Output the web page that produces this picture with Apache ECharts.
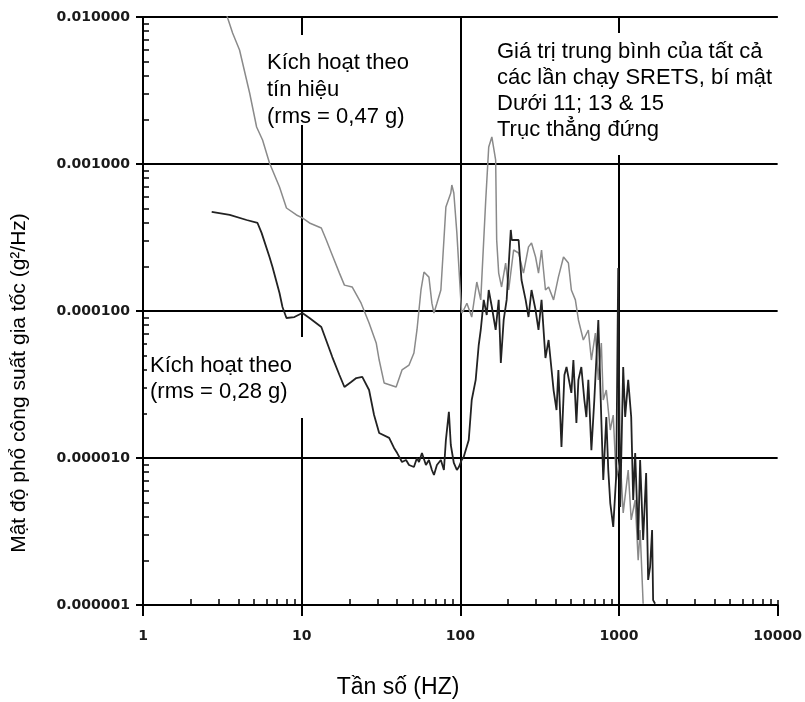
<!DOCTYPE html>
<html>
<head>
<meta charset="utf-8">
<script src="https://cdn.jsdelivr.net/npm/echarts@6/dist/echarts.min.js"></script>
<style>
html,body{margin:0;padding:0;background:#fff;}
#chart{width:805px;height:702px;}
</style>
</head>
<body>
<div id="chart"></div>
<script>
// X axis (frequency, Hz) major ticks and Y axis (PSD, g^2/Hz) major ticks
const xTicks = [1, 10, 100, 1000, 10000];
const yTicks = [0.000001, 0.00001, 0.0001, 0.001, 0.01];

// Signal-triggered (rms = 0,47 g) – light grey trace
const grayFreq = [3.23,3.42,3.67,4.06,4.70,5.20,5.67,6.27,7.25,8.02,9.27,10.1,11.2,13.3,14.3,15.4,17.3,18.6,20.8,23.7,26.6,29.5,30.8,33.1,39.4,42.9,47.5,51.0,53.3,56.5,59.0,63.4,66.2,68.2,71.2,75.4,78.8,81.1,87.1,88.4,91.0,95.1,97.9,100.7,102,105,110,118,127,134.5,144.6,151,158,167,169.5,174.5,182,193,201.7,216.7,233,250,269,281,298,311,325,344,360,387,415,447,480,501,531,555,596,641,670,710,741,774,796,832,881,920,961,1018,1063,1143,1194,1265,1321,1359,1420];
const grayPsd = [1.21e-2,9.8e-3,7.78e-3,5.96e-3,3.04e-3,1.785e-3,1.457e-3,1.016e-3,6.97e-4,5.02e-4,4.5e-4,4.3e-4,3.97e-4,3.67e-4,3.04e-4,2.48e-4,1.81e-4,1.50e-4,1.457e-4,1.13e-4,8.29e-5,6.06e-5,4.64e-5,3.24e-5,3.04e-5,3.97e-5,4.29e-5,5.18e-5,7.43e-5,1.39e-4,1.84e-4,1.70e-4,1.13e-4,9.69e-5,1.13e-4,1.39e-4,3.04e-4,5.1e-4,6.35e-4,7.2e-4,6.35e-4,3.4e-4,1.99e-4,1.19e-4,9.69e-5,1.015e-4,1.13e-4,9.1e-5,1.575e-4,1.19e-4,5.69e-4,1.305e-3,1.527e-3,1.064e-3,3.04e-4,1.81e-4,1.457e-4,2.12e-4,1.39e-4,2.6e-4,2.48e-4,1.81e-4,2.73e-4,2.9e-4,2.33e-4,1.81e-4,2.6e-4,1.39e-4,1.457e-4,1.19e-4,1.70e-4,2.33e-4,2.12e-4,1.39e-4,1.19e-4,8.69e-5,6.35e-5,7.43e-5,4.64e-5,7.08e-5,3.4e-5,6.06e-5,2.48e-5,2.9e-5,1.55e-5,1.96e-5,7.08e-6,1.0e-5,4.23e-6,8.29e-6,3.79e-6,5.18e-6,2.02e-6,3.24e-6,1.02e-6];

// (rms = 0,28 g) – dark trace
const darkFreq = [2.71,3.52,4.50,5.27,5.59,6.27,6.55,7.25,7.57,8.02,9.0,10.1,11.2,13.3,15.6,17.3,18.6,20.5,22.1,24.1,26.6,28.6,30.8,35.6,38.2,40,42.9,45.5,47.5,51.0,53.3,54.9,57.3,60.7,63.4,66.2,68.2,71.2,75.4,78.8,81.1,84.7,87.1,91.0,95.1,97.9,102,105,113,118,125,130.6,134.5,140.5,146.7,151,158,167,174.5,180,187.6,195.9,208,211,233,243,258,269,281,298,311,325,344,360,387,404,415,434,453,467,501,516,539,555,579,605,623,641,670,699,741,774,796,832,856,881,920,961,989,1004,1018,1063,1094,1143,1194,1229,1265,1321,1359,1420,1483,1527,1571,1617,1641,1689];
const darkPsd = [4.72e-4,4.5e-4,4.16e-4,3.97e-4,3.4e-4,2.33e-4,1.99e-4,1.326e-4,1.065e-4,8.96e-5,9.1e-5,9.69e-5,8.96e-5,7.78e-5,4.86e-5,3.67e-5,3.04e-5,3.29e-5,3.5e-5,3.56e-5,2.9e-5,1.96e-5,1.48e-5,1.37e-5,1.17e-5,1.08e-5,9.39e-6,9.69e-6,8.96e-6,8.69e-6,1.0e-5,9.39e-6,1.08e-5,8.96e-6,9.69e-6,8.29e-6,7.66e-6,8.96e-6,9.69e-6,8.29e-6,1.325e-5,2.06e-5,1.226e-5,9.25e-6,8.29e-6,8.69e-6,9.69e-6,1.015e-5,1.325e-5,2.48e-5,3.4e-5,5.87e-5,7.43e-5,1.19e-4,9.39e-5,1.39e-4,1.065e-4,7.43e-5,1.19e-4,4.43e-5,8.69e-5,1.19e-4,3.56e-4,3.04e-4,3.04e-4,1.625e-4,1.19e-4,9.1e-5,1.39e-4,1.015e-4,7.43e-5,1.19e-4,4.79e-5,6.35e-5,2.9e-5,2.12e-5,3.97e-5,1.19e-5,3.67e-5,4.16e-5,2.77e-5,4.64e-5,1.73e-5,3.4e-5,4.16e-5,2.48e-5,1.9e-5,3.4e-5,1.13e-5,2.48e-5,8.69e-5,1.815e-5,7.08e-6,1.9e-5,8.29e-6,4.94e-6,3.4e-6,7.66e-6,1.96e-4,2.48e-5,4.64e-6,4.16e-5,1.9e-5,3.4e-5,1.9e-5,5.18e-6,1.08e-5,2.77e-6,9.69e-6,2.77e-6,7.9e-6,1.48e-6,1.815e-6,3.24e-6,1.08e-6,1.02e-6];

const xTitle = 'Tần số (HZ)';
const yTitle = 'Mật độ phổ công suất gia tốc (g²/Hz)';
const note1 = 'Kích hoạt theo\ntín hiệu\n(rms = 0,47 g)';
const note2 = 'Kích hoạt theo\n(rms = 0,28 g)';
const note3 = 'Giá trị trung bình của tất cả\ncác lần chạy SRETS, bí mật\nDưới 11; 13 & 15\nTrục thẳng đứng';

const pair = (xs, ys) => xs.map((x, i) => [x, ys[i]]);
const tickFont = {fontFamily: 'DejaVu Sans', fontWeight: 'bold', fontSize: 14, color: '#1a1a1a'};
const textFont = 'Liberation Sans, Arial, sans-serif';

const chart = echarts.init(document.getElementById('chart'), null, {renderer: 'canvas'});
chart.setOption({
  animation: false,
  backgroundColor: '#fff',
  grid: {left: 143, right: 25, top: 17, bottom: 97, containLabel: false},
  xAxis: [
    {
      type: 'log', logBase: 10, min: xTicks[0], max: xTicks[xTicks.length - 1], position: 'bottom',
      axisLine: {lineStyle: {color: '#000', width: 2}},
      axisTick: {show: true, inside: true, length: 5, lineStyle: {color: '#000', width: 1.5}},
      minorTick: {show: true, splitNumber: 9, length: 6, lineStyle: {color: '#000', width: 1.5}},
      splitLine: {show: true, lineStyle: {color: ['#000', '#000', '#000', '#000', 'rgba(0,0,0,0)'], width: 2}},
      minorSplitLine: {show: false},
      axisLabel: Object.assign({margin: 24, formatter: v => String(Math.round(v))}, tickFont)
    },
    {
      type: 'log', logBase: 10, min: xTicks[0], max: xTicks[xTicks.length - 1], position: 'bottom',
      axisLine: {show: false},
      axisTick: {show: true, inside: false, length: 11, lineStyle: {color: '#000', width: 2}},
      splitLine: {show: false}, axisLabel: {show: false}
    }
  ],
  yAxis: [
    {
      type: 'log', logBase: 10, min: yTicks[0], max: yTicks[yTicks.length - 1], position: 'left',
      axisLine: {lineStyle: {color: '#000', width: 2}},
      axisTick: {show: true, inside: true, length: 5, lineStyle: {color: '#000', width: 1.5}},
      minorTick: {show: true, splitNumber: 9, length: 6, lineStyle: {color: '#000', width: 1.5}},
      splitLine: {show: true, lineStyle: {color: '#000', width: 2}},
      axisLabel: Object.assign({margin: 13, formatter: v => v.toFixed(6)}, tickFont)
    },
    {
      type: 'log', logBase: 10, min: yTicks[0], max: yTicks[yTicks.length - 1], position: 'left',
      axisLine: {show: false},
      axisTick: {show: true, inside: false, length: 7, lineStyle: {color: '#000', width: 2}},
      splitLine: {show: false}, axisLabel: {show: false}
    }
  ],
  series: [
    {
      name: 'rms 0,47 g', type: 'line', xAxisIndex: 0, yAxisIndex: 0, showSymbol: false, symbol: 'none',
      data: pair(grayFreq, grayPsd), z: 3,
      lineStyle: {color: '#8a8a8a', width: 1.5}
    },
    {
      name: 'rms 0,28 g', type: 'line', xAxisIndex: 0, yAxisIndex: 0, showSymbol: false, symbol: 'none',
      data: pair(darkFreq, darkPsd), z: 4,
      lineStyle: {color: '#222', width: 1.8}
    }
  ],
  graphic: [
    {type: 'rect', z: 1, shape: {x: 262, y: 35, width: 162, height: 90}, style: {fill: '#fff'}},
    {type: 'rect', z: 1, shape: {x: 147, y: 337, width: 159, height: 81}, style: {fill: '#fff'}},
    {type: 'rect', z: 1, shape: {x: 490, y: 33, width: 300, height: 122}, style: {fill: '#fff'}},
    {type: 'text', z: 1, x: 267, y: 49, style: {text: note1, font: '22px ' + textFont, fill: '#000', lineHeight: 27}},
    {type: 'text', z: 1, x: 150, y: 353, style: {text: note2, font: '22px ' + textFont, fill: '#000', lineHeight: 26}},
    {type: 'text', z: 1, x: 497, y: 39, style: {text: note3, font: '22px ' + textFont, fill: '#000', lineHeight: 26}},
    {type: 'text', z: 1, x: 398, y: 688, style: {text: xTitle, font: '23px ' + textFont, fill: '#000', align: 'center', verticalAlign: 'middle', textAlign: 'center', textVerticalAlign: 'middle'}},
    {type: 'text', z: 1, x: 19, y: 383, rotation: Math.PI / 2, style: {text: yTitle, font: '21px ' + textFont, fill: '#000', align: 'center', verticalAlign: 'middle', textAlign: 'center', textVerticalAlign: 'middle'}}
  ]
});
</script>
</body>
</html>
